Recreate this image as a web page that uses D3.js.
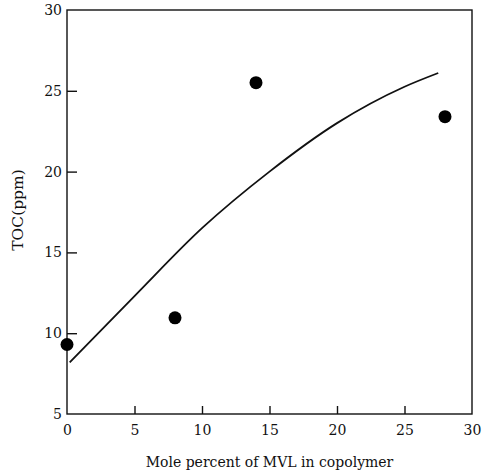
<!DOCTYPE html>
<html>
<head>
<meta charset="utf-8">
<script src="https://cdn.jsdelivr.net/npm/d3@7"></script>
<style>
  html, body { margin: 0; padding: 0; background: #fff; }
  svg { display: block; }
  text { font-family: "DejaVu Serif", "Liberation Serif", serif; fill: #111; }
</style>
</head>
<body>
<svg id="chart" width="486" height="476"></svg>
<script>
// Measured TOC against MVL content
const molePercent = [0, 8, 14, 28];
const tocPpm = [9.3, 10.95, 25.5, 23.4];

// Fitted trend
const fitX = [0.2, 5, 10, 15, 20, 25, 27.5];
const fitY = [8.2, 12.3, 16.5, 20.0, 23.0, 25.25, 26.1];

const xTicks = [0, 5, 10, 15, 20, 25, 30];
const yTicks = [5, 10, 15, 20, 25, 30];

const svg = d3.select("#chart");
const margin = { left: 67, right: 14, top: 10, bottom: 62 };
const W = 486, H = 476;
const FONT = "DejaVu Serif, Liberation Serif, serif";

const x = d3.scaleLinear().domain([0, 30]).range([margin.left, W - margin.right]);
const y = d3.scaleLinear().domain([5, 30]).range([H - margin.bottom, margin.top]);

// Frame
svg.append("rect")
  .attr("x", x(0)).attr("y", y(30))
  .attr("width", x(30) - x(0)).attr("height", y(5) - y(30))
  .attr("fill", "none").attr("stroke", "#111").attr("stroke-width", 1.4);

// Bottom axis, ticks pointing inward
const xAxis = svg.append("g")
  .attr("transform", `translate(0,${y(5)})`)
  .call(d3.axisBottom(x).tickValues(xTicks).tickSizeInner(-8).tickSizeOuter(0).tickPadding(11));
xAxis.select(".domain").remove();
xAxis.selectAll(".tick line").attr("stroke", "#111").attr("stroke-width", 1.4)
  .filter(d => d === 0 || d === 30).remove();
xAxis.selectAll(".tick text").attr("font-size", 14)
  .attr("font-family", FONT).attr("fill", "#111");

// Left axis
const yAxis = svg.append("g")
  .attr("transform", `translate(${x(0)},0)`)
  .call(d3.axisLeft(y).tickValues(yTicks).tickSizeInner(-10).tickSizeOuter(0).tickPadding(6));
yAxis.select(".domain").remove();
yAxis.selectAll(".tick line").attr("stroke", "#111").attr("stroke-width", 1.4)
  .filter(d => d === 5 || d === 30).remove();
yAxis.selectAll(".tick text").attr("font-size", 14)
  .attr("font-family", FONT).attr("fill", "#111")
  .attr("x", -5);

// Trend curve
const line = d3.line()
  .x(d => x(d[0]))
  .y(d => y(d[1]))
  .curve(d3.curveMonotoneX);
svg.append("path")
  .datum(fitX.map((v, i) => [v, fitY[i]]))
  .attr("d", line)
  .attr("fill", "none").attr("stroke", "#111").attr("stroke-width", 1.8);

// Data points
svg.append("g").selectAll("circle")
  .data(molePercent.map((v, i) => [v, tocPpm[i]]))
  .join("circle")
  .attr("cx", d => x(d[0])).attr("cy", d => y(d[1]))
  .attr("r", 6.5).attr("fill", "#000");

// Axis titles
svg.append("text")
  .attr("x", (x(0) + x(30)) / 2).attr("y", 467)
  .attr("text-anchor", "middle").attr("font-size", 14)
  .text("Mole percent of MVL in copolymer");

svg.append("text")
  .attr("transform", `translate(23,${(y(5) + y(30)) / 2 - 2}) rotate(-90)`)
  .attr("text-anchor", "middle").attr("font-size", 15.5)
  .text("TOC(ppm)");
</script>
</body>
</html>
